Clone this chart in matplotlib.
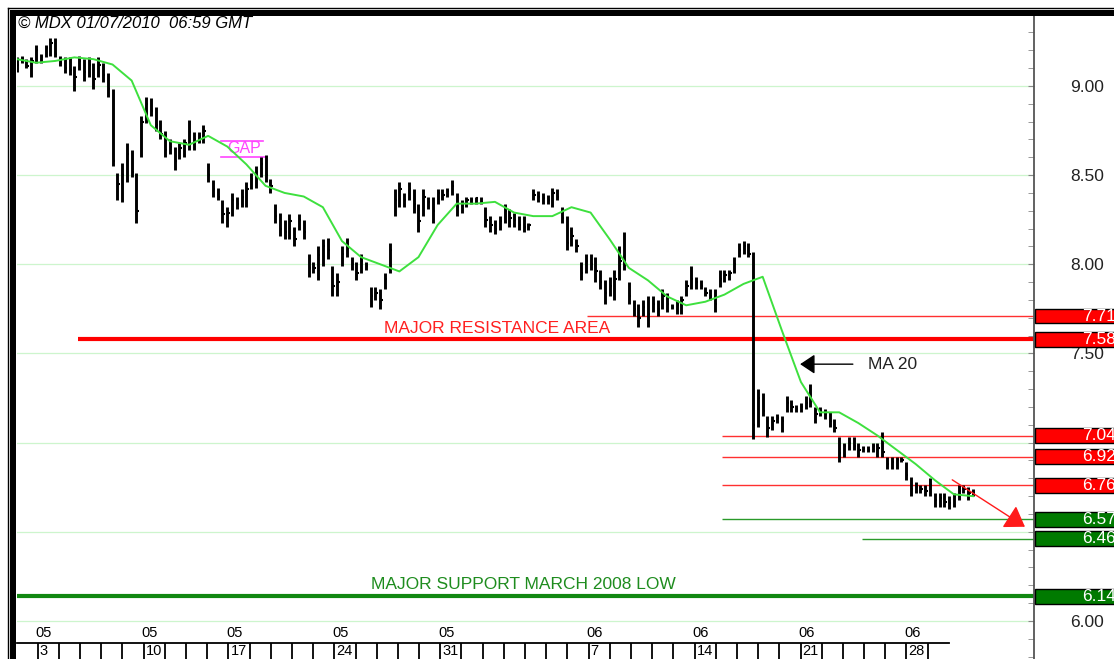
import numpy as np
import matplotlib
matplotlib.use('Agg')
import matplotlib.pyplot as plt
from matplotlib.patches import Rectangle
from matplotlib.lines import Line2D
from matplotlib.ticker import MultipleLocator
from matplotlib import transforms

plt.rcParams['font.family'] = ['Liberation Sans', 'DejaVu Sans']

# hourly bars (high / low / close)
highs = [9.16, 9.17, 9.15, 9.16, 9.23, 9.18, 9.23, 9.27, 9.27, 9.17,
         9.16, 9.16, 9.11, 9.17, 9.15, 9.16, 9.13, 9.16, 9.13, 9.07,
         8.98, 8.51, 8.57, 8.68, 8.64, 8.51, 8.83, 8.94, 8.93, 8.88,
         8.81, 8.75, 8.70, 8.66, 8.68, 8.70, 8.81, 8.74, 8.74, 8.78,
         8.57, 8.47, 8.43, 8.36, 8.32, 8.40, 8.38,
         8.42, 8.46, 8.51, 8.55, 8.60, 8.61, 8.48, 8.34, 8.29, 8.25,
         8.28, 8.21, 8.28, 8.25, 8.06, 8.01, 8.10, 8.14, 8.15, 7.99,
         7.95, 8.10, 8.15, 8.04, 8.01, 8.06, 8.01, 7.87, 7.87, 7.86,
         7.95, 8.12, 8.42, 8.46, 8.40, 8.46, 8.42, 8.34, 8.42, 8.38,
         8.38, 8.42, 8.42, 8.43, 8.47, 8.40, 8.36, 8.38, 8.38, 8.38,
         8.38, 8.32,
         8.27, 8.25, 8.27, 8.34, 8.31, 8.29, 8.27, 8.27, 8.23, 8.42,
         8.41, 8.40, 8.39, 8.43, 8.42, 8.32, 8.27, 8.21, 8.14, 8.01,
         8.06, 8.06, 8.04, 7.97, 7.91, 7.93, 7.97, 8.10, 8.18, 7.90,
         7.80, 7.78, 7.80, 7.82, 7.82, 7.80, 7.86, 7.84, 7.78, 7.80,
         7.82, 7.91, 7.99, 7.93, 7.91, 7.87, 7.86, 7.86, 7.97, 7.97,
         7.97, 8.04, 8.12, 8.13, 8.12,
         8.07, 7.30, 7.28, 7.15, 7.15, 7.16, 7.15, 7.26, 7.24, 7.21,
         7.22, 7.26, 7.33, 7.20, 7.20, 7.19, 7.17, 7.13, 7.03, 7.00,
         7.03, 7.03, 7.00, 6.98, 6.98, 7.00, 7.00, 7.06, 6.92, 6.92,
         6.92, 6.92, 6.89, 6.81, 6.78, 6.76, 6.76, 6.80, 6.72, 6.72,
         6.72, 6.70, 6.72, 6.76, 6.76, 6.75, 6.74]
lows = [9.08, 9.13, 9.10, 9.05, 9.13, 9.13, 9.16, 9.17, 9.16, 9.11,
        9.07, 9.06, 8.97, 9.09, 9.03, 9.05, 8.98, 9.05, 9.02, 8.94,
        8.55, 8.36, 8.35, 8.46, 8.49, 8.23, 8.60, 8.79, 8.83, 8.75,
        8.70, 8.60, 8.62, 8.53, 8.59, 8.60, 8.64, 8.64, 8.68, 8.68,
        8.46, 8.38, 8.36, 8.23, 8.21, 8.27, 8.31,
        8.32, 8.32, 8.42, 8.43, 8.49, 8.46, 8.40, 8.23, 8.16, 8.14,
        8.14, 8.10, 8.19, 8.14, 7.93, 7.95, 7.91, 7.99, 8.03, 7.82,
        7.82, 7.99, 8.04, 7.97, 7.91, 7.95, 7.97, 7.76, 7.80, 7.75,
        7.86, 7.95, 8.27, 8.32, 8.32, 8.36, 8.29, 8.18, 8.27, 8.31,
        8.23, 8.34, 8.36, 8.38, 8.39, 8.27, 8.29, 8.32, 8.34, 8.34,
        8.34, 8.21,
        8.18, 8.17, 8.19, 8.23, 8.21, 8.21, 8.19, 8.18, 8.19, 8.36,
        8.35, 8.34, 8.34, 8.32, 8.36, 8.23, 8.08, 8.10, 8.07, 7.91,
        7.95, 7.97, 7.90, 7.86, 7.78, 7.82, 7.80, 7.91, 7.97, 7.78,
        7.71, 7.65, 7.71, 7.65, 7.73, 7.71, 7.75, 7.73, 7.75, 7.72,
        7.72, 7.82, 7.86, 7.86, 7.86, 7.82, 7.80, 7.73, 7.87, 7.90,
        7.91, 7.95, 8.04, 8.06, 8.04,
        7.02, 7.09, 7.15, 7.03, 7.07, 7.11, 7.06, 7.17, 7.17, 7.17,
        7.17, 7.19, 7.20, 7.11, 7.15, 7.13, 7.09, 7.06, 6.89, 6.92,
        6.96, 6.96, 6.92, 6.95, 6.95, 6.95, 6.92, 6.92, 6.85, 6.85,
        6.85, 6.89, 6.79, 6.70, 6.72, 6.72, 6.70, 6.70, 6.64, 6.64,
        6.64, 6.63, 6.64, 6.68, 6.72, 6.68, 6.70]
closes = [9.12, 9.15, 9.11, 9.14, 9.20, 9.16, 9.21, 9.24, 9.18, 9.13,
          9.10, 9.09, 9.05, 9.14, 9.08, 9.12, 9.04, 9.12, 9.06, 8.98,
          8.58, 8.45, 8.50, 8.62, 8.52, 8.30, 8.80, 8.90, 8.86, 8.78,
          8.73, 8.64, 8.66, 8.58, 8.65, 8.68, 8.74, 8.70, 8.72, 8.75,
          8.50, 8.42, 8.38, 8.28, 8.29, 8.36, 8.34,
          8.38, 8.42, 8.48, 8.52, 8.56, 8.50, 8.44, 8.27, 8.20, 8.18,
          8.24, 8.14, 8.25, 8.18, 7.98, 7.98, 8.05, 8.10, 8.08, 7.88,
          7.90, 8.06, 8.10, 8.00, 7.95, 8.02, 7.99, 7.82, 7.84, 7.80,
          7.92, 8.08, 8.36, 8.42, 8.36, 8.42, 8.34, 8.24, 8.38, 8.35,
          8.30, 8.40, 8.39, 8.41, 8.44, 8.32, 8.34, 8.36, 8.36, 8.37,
          8.35, 8.25,
          8.22, 8.20, 8.24, 8.30, 8.26, 8.25, 8.22, 8.21, 8.22, 8.39,
          8.38, 8.37, 8.36, 8.40, 8.38, 8.26, 8.12, 8.16, 8.10, 7.95,
          8.02, 8.00, 7.96, 7.90, 7.84, 7.88, 7.92, 8.02, 8.00, 7.82,
          7.75, 7.70, 7.76, 7.72, 7.78, 7.75, 7.82, 7.78, 7.76, 7.77,
          7.80, 7.88, 7.92, 7.90, 7.88, 7.84, 7.82, 7.78, 7.92, 7.94,
          7.95, 8.00, 8.08, 8.10, 8.06,
          7.10, 7.25, 7.18, 7.08, 7.12, 7.14, 7.12, 7.22, 7.20, 7.19,
          7.20, 7.22, 7.24, 7.16, 7.18, 7.16, 7.12, 7.08, 6.94, 6.98,
          7.00, 6.98, 6.96, 6.97, 6.96, 6.98, 6.97, 6.95, 6.88, 6.89,
          6.90, 6.90, 6.82, 6.74, 6.75, 6.74, 6.73, 6.76, 6.68, 6.69,
          6.67, 6.66, 6.70, 6.73, 6.74, 6.72, 6.72]

# MA 20, read at every 4th bar
ma20 = [9.15, 9.13, 9.14, 9.16, 9.15, 9.12, 9.03, 8.78, 8.69, 8.67,
        8.72, 8.66, 8.56, 8.44, 8.40, 8.38, 8.32, 8.13, 8.04, 8.00,
        7.96, 8.04, 8.22, 8.34, 8.34, 8.35, 8.29, 8.27, 8.27, 8.32,
        8.29, 8.14, 7.98, 7.91, 7.82, 7.77, 7.79, 7.83, 7.89, 7.93,
        7.63, 7.34, 7.17, 7.17, 7.11, 7.04, 6.96, 6.88, 6.79, 6.71, 6.70]

red_levels = [7.71, 7.58, 7.04, 6.92, 6.76]
green_levels = [6.57, 6.46, 6.14]

price_ticks = [6.0, 7.5, 8.0, 8.5, 9.0]
day_labels = ['3', '10', '17', '24', '31', '7', '14', '21', '28']
month_labels = ['05', '05', '05', '05', '05', '06', '06', '06', '06']
label_days = [1, 6, 10, 15, 20, 27, 32, 37, 42]

W, H = 1114, 659
DAY = 21.19  # pixels per trading day
fig = plt.figure(figsize=(W / 100, H / 100), dpi=100)
ax = fig.add_axes([16.5 / W, 0, (1034 - 16.5) / W, (H - 16) / H])
xmax = (1034 - 16.5) / DAY
ax.set_xlim(0, xmax)
ax.set_ylim(5.787, 9.392)

for s in ['left', 'top', 'bottom']:
    ax.spines[s].set_visible(False)
ax.spines['right'].set_color('#555555')
ax.spines['right'].set_linewidth(1.3)
ax.yaxis.tick_right()
ax.set_yticks(price_ticks)
ax.set_yticklabels(['%.2f' % t for t in price_ticks])
ax.yaxis.set_minor_locator(MultipleLocator(0.1))
ax.tick_params(axis='y', which='both', direction='in', length=4, color='#888888',
               pad=26, labelsize=12.5, labelcolor='#222222')
ax.set_xticks([])

for t in np.arange(6.0, 9.01, 0.5):
    ax.axhline(t, color='#cdf5cd', lw=0.9, zorder=0)

n = len(highs)
bar_x = np.linspace(0.02, 45.14, n)
ax.vlines(bar_x, lows, highs, color='black', lw=2.1, zorder=3)
ax.hlines(closes, bar_x, bar_x + 0.11, color='black', lw=1.5, zorder=3)
ax.plot(bar_x[::4], ma20, color='#3ee03e', lw=1.4, zorder=4)

# support / resistance lines
red_starts = [26.9, 2.9, 33.3, 33.3, 33.3]
red_widths = [1, 3, 1, 1, 1]
for v, s, w in zip(red_levels, red_starts, red_widths):
    ax.hlines(v, s, xmax, color='#ff0000' if w > 1 else '#ff3030', lw=w, zorder=2)
green_starts = [33.3, 39.9, 0]
green_widths = [1, 1, 3]
for v, s, w in zip(green_levels, green_starts, green_widths):
    ax.hlines(v, s, xmax, color='#118811' if w > 1 else '#2a9a2a', lw=w, zorder=2)

# price boxes on the right
blend = transforms.blended_transform_factory(fig.transFigure, ax.transData)
for levels, col in [(red_levels, '#ff0000'), (green_levels, '#007a00')]:
    for v in levels:
        fig.add_artist(Rectangle((1035 / W, v - 0.042), 0.1, 0.084, transform=blend,
                                 facecolor=col, edgecolor='black', lw=1, zorder=4))
        fig.text(1082 / W, v, '%.2f' % v, transform=blend, color='white',
                 va='center', ha='left', fontsize=12.5, zorder=5)

# date strip
xt = ax.get_xaxis_transform()
strip_top = 16 / (H - 16)
ax.plot([0, 44], [strip_top, strip_top], transform=xt, color='black', lw=1.3, clip_on=False)
ax.vlines(range(1, 44), 0, strip_top, transform=xt, colors='black', lw=1.3)
for k, d, m in zip(label_days, day_labels, month_labels):
    ax.text(k + 0.1, strip_top / 2, d, transform=xt, va='center', ha='left', fontsize=10.5)
    ax.text(k - 0.1, 0.041, m, transform=xt, va='center', ha='left', fontsize=10.5)

# annotations
ax.text(22.7, 7.64, 'MAJOR RESISTANCE AREA', color='#ff2020', ha='center', va='center',
        fontsize=12.5)
ax.text(23.9, 6.206, 'MAJOR SUPPORT MARCH 2008 LOW', color='#1e8c1e', ha='center',
        va='center', fontsize=12.5)
ax.text(40.2, 7.44, 'MA 20', ha='left', va='center', fontsize=12.5, color='#222222')
ax.annotate('', xy=(36.85, 7.44), xytext=(39.6, 7.44),
            arrowprops=dict(arrowstyle='-|>,head_length=0.45,head_width=0.3',
                            color='black', lw=1, mutation_scale=20))
ax.annotate('', xy=(47.7, 6.52), xytext=(44.05, 6.80),
            arrowprops=dict(arrowstyle='-|>,head_length=0.6,head_width=0.4',
                            color='#ff1a1a', lw=1, mutation_scale=20))
ax.text(10.73, 8.648, 'GAP', color='#ff44ff', ha='center', va='center', fontsize=11.5)
ax.plot([9.65, 11.63], [8.69, 8.69], color='#ff44ff', lw=1.2)
ax.plot([9.65, 11.72], [8.60, 8.60], color='#ff44ff', lw=1.2)

fig.text(18 / W, 1 - 23 / H, '\u00a9 MDX 01/07/2010  06:59 GMT', style='italic',
         fontsize=12, va='center', ha='left')

# outer frame
fig.add_artist(Rectangle((10 / W, 0), 6 / W, 1 - 10 / H, transform=fig.transFigure,
                         facecolor='black', edgecolor='none', zorder=6))
fig.add_artist(Rectangle((10 / W, 1 - 16 / H), 1, 6 / H, transform=fig.transFigure,
                         facecolor='black', edgecolor='none', zorder=6))
fig.add_artist(Line2D([7.5 / W, 7.5 / W], [0, 1 - 7.5 / H], transform=fig.transFigure,
                      color='black', lw=1, zorder=6))
fig.add_artist(Line2D([7.5 / W, 1], [1 - 7.5 / H, 1 - 7.5 / H], transform=fig.transFigure,
                      color='black', lw=1, zorder=6))

fig.savefig('out.png', dpi=100)
